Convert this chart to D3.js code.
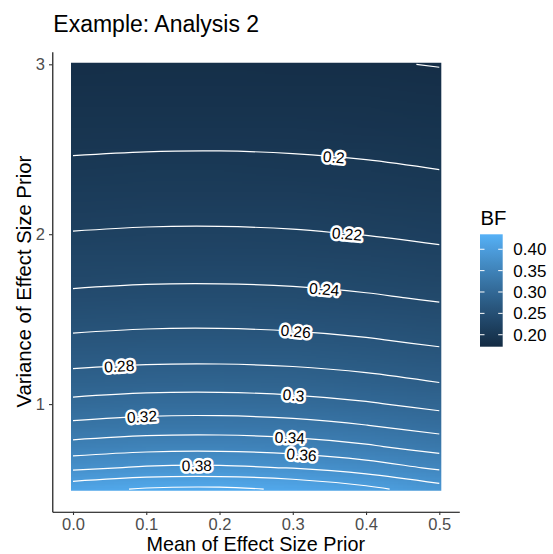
<!DOCTYPE html>
<html>
<head>
<meta charset="utf-8">
<script src="https://cdn.jsdelivr.net/npm/d3@7"></script>
<style>
  body { margin: 0; background: #fff; }
  svg { display: block; font-family: "Liberation Sans", Arial, sans-serif; }
</style>
</head>
<body>
<div id="chart"></div>
<script>
const width = 553;
const height = 554;

// grid the BF surface was read on
const means = [0, 0.1, 0.2, 0.3, 0.4, 0.5];
const variances = [0.5, 0.625, 0.75, 0.875, 1, 1.125, 1.25, 1.375, 1.5, 1.625, 1.75,
                   1.875, 2, 2.125, 2.25, 2.375, 2.5, 2.625, 2.75, 2.875, 3];

// one row per variance (low to high), one column per mean
const bf = [
  [0.4135, 0.4220, 0.4235, 0.4177, 0.4055, 0.3884],
  [0.3761, 0.3825, 0.3836, 0.3793, 0.3700, 0.3569],
  [0.3473, 0.3523, 0.3532, 0.3498, 0.3425, 0.3320],
  [0.3243, 0.3283, 0.3290, 0.3263, 0.3203, 0.3117],
  [0.3053, 0.3087, 0.3092, 0.3069, 0.3020, 0.2947],
  [0.2893, 0.2921, 0.2926, 0.2907, 0.2865, 0.2802],
  [0.2755, 0.2780, 0.2784, 0.2768, 0.2731, 0.2677],
  [0.2636, 0.2658, 0.2661, 0.2647, 0.2615, 0.2567],
  [0.2531, 0.2550, 0.2553, 0.2540, 0.2512, 0.2470],
  [0.2437, 0.2454, 0.2457, 0.2446, 0.2420, 0.2383],
  [0.2353, 0.2369, 0.2371, 0.2361, 0.2338, 0.2304],
  [0.2278, 0.2292, 0.2294, 0.2285, 0.2264, 0.2233],
  [0.2209, 0.2222, 0.2224, 0.2215, 0.2196, 0.2168],
  [0.2146, 0.2157, 0.2159, 0.2152, 0.2134, 0.2108],
  [0.2088, 0.2099, 0.2100, 0.2093, 0.2077, 0.2053],
  [0.2035, 0.2044, 0.2046, 0.2039, 0.2025, 0.2002],
  [0.1985, 0.1994, 0.1996, 0.1990, 0.1976, 0.1955],
  [0.1939, 0.1947, 0.1949, 0.1943, 0.1930, 0.1911],
  [0.1896, 0.1904, 0.1905, 0.1900, 0.1888, 0.1870],
  [0.1856, 0.1863, 0.1864, 0.1859, 0.1848, 0.1831],
  [0.1818, 0.1825, 0.1826, 0.1821, 0.1811, 0.1795]
];

const contourLevels = [0.18, 0.2, 0.22, 0.24, 0.26, 0.28, 0.3, 0.32, 0.34, 0.36, 0.38, 0.4, 0.42];

// where the labels sit on their contour lines
const labelLevels = [0.2, 0.22, 0.24, 0.26, 0.28, 0.3, 0.32, 0.34, 0.36, 0.38];
const labelMeans = [0.356, 0.374, 0.343, 0.304, 0.063, 0.301, 0.094, 0.296, 0.312, 0.169];
const labelVariances = [2.44, 1.99, 1.67, 1.42, 1.22, 1.05, 0.92, 0.80, 0.70, 0.64];

const xTicks = [0, 0.1, 0.2, 0.3, 0.4, 0.5];
const yTicks = [1, 2, 3];
const legendTicks = [0.2, 0.25, 0.3, 0.35, 0.4];
const fillLimits = [0.172, 0.435];

const svg = d3.select("#chart")
    .append("svg")
    .attr("width", width)
    .attr("height", height);

const xScale = d3.scaleLinear()
    .domain([-0.02826, 0.5273])
    .range([52.3, 459.3]);

const yScale = d3.scaleLinear()
    .domain([0.3667, 3.0742])
    .range([511.7, 51.7]);

const fill = d3.scaleLinear()
    .domain(fillLimits)
    .range(["#132B43", "#56B1F7"])
    .interpolate(d3.interpolateLab);

const nx = means.length, ny = variances.length;

//raster: paint the grid into a tiny canvas and let the browser smooth it up
const small = document.createElement("canvas");
small.width = nx;
small.height = ny;
const sctx = small.getContext("2d");
const img = sctx.createImageData(nx, ny);
bf.forEach((row, j) => row.forEach((val, i) => {
    const c = d3.rgb(fill(val));
    const k = ((ny - 1 - j) * nx + i) * 4;
    img.data[k] = c.r;
    img.data[k + 1] = c.g;
    img.data[k + 2] = c.b;
    img.data[k + 3] = 255;
}));
sctx.putImageData(img, 0, 0);

const rx0 = xScale(means[0]) - 2, rx1 = xScale(means[nx - 1]) + 2;
const ry0 = yScale(variances[ny - 1]) - 1.6, ry1 = yScale(variances[0]) + 1.6;
const cw = xScale(means[1]) - xScale(means[0]);
const ch = yScale(variances[0]) - yScale(variances[1]);

const big = document.createElement("canvas");
big.width = width;
big.height = height;
const bctx = big.getContext("2d");
bctx.imageSmoothingEnabled = true;
bctx.beginPath();
bctx.rect(rx0, ry0, rx1 - rx0, ry1 - ry0);
bctx.clip();
bctx.drawImage(small, xScale(means[0]) - cw / 2, yScale(variances[ny - 1]) - ch / 2, cw * nx, ch * ny);

svg.append("image")
    .attr("x", 0)
    .attr("y", 0)
    .attr("width", width)
    .attr("height", height)
    .attr("href", big.toDataURL());

//contour lines, grid index space -> data -> pixels
const gx = d3.scaleLinear().domain([0.5, nx - 0.5]).range([means[0], means[nx - 1]]);
const gy = d3.scaleLinear().domain([0.5, ny - 0.5]).range([variances[0], variances[ny - 1]]);
const project = p => [xScale(gx(p[0])), yScale(gy(p[1]))];
const inside = p => p[0] >= 0.5 - 1e-9 && p[0] <= nx - 0.5 + 1e-9 && p[1] >= 0.5 - 1e-9 && p[1] <= ny - 0.5 + 1e-9;

const contours = d3.contours()
    .size([nx, ny])
    .thresholds(contourLevels)(bf.flat());

// cut each ring into the open isolines that lie inside the data area
function isolines(c) {
    const lines = [];
    c.coordinates.forEach(poly => poly.forEach(ring => {
        const pts = ring.slice(0, -1);
        const start = pts.findIndex(p => !inside(p));
        if (start < 0) { lines.push(ring.map(project)); return; }
        let run = [];
        for (let k = 1; k <= pts.length; k++) {
            const p = pts[(start + k) % pts.length];
            if (inside(p)) run.push(project(p));
            else { if (run.length > 1) lines.push(run); run = []; }
        }
        if (run.length > 1) lines.push(run);
    }));
    return lines;
}

const lineGen = d3.line().curve(d3.curveCatmullRom.alpha(0.5));

svg.append("g")
    .selectAll("path")
    .data(contours.flatMap(isolines))
    .enter()
    .append("path")
    .attr("d", lineGen)
    .attr("fill", "none")
    .attr("stroke", "white")
    .attr("stroke-width", 1.2);

//labels snapped onto their line
const labels = labelLevels.map((lev, i) => {
    const c = contours.find(d => Math.abs(d.value - lev) < 1e-9);
    const tx = xScale(labelMeans[i]), ty = yScale(labelVariances[i]);
    let best = null;
    isolines(c).forEach(r => {
        for (let k = 0; k < r.length - 1; k++) {
            const p = r[k], q = r[k + 1];
            if ((p[0] - tx) * (q[0] - tx) > 0 || p[0] === q[0]) continue;
            const t = (tx - p[0]) / (q[0] - p[0]);
            const y = p[1] + t * (q[1] - p[1]);
            let ang = Math.atan2(q[1] - p[1], q[0] - p[0]) * 180 / Math.PI;
            if (ang > 90) ang -= 180;
            if (ang < -90) ang += 180;
            if (!best || Math.abs(y - ty) < Math.abs(best.y - ty)) best = { x: tx, y: y, a: ang };
        }
    });
    return Object.assign(best || { x: tx, y: ty, a: 0 }, { text: String(+lev.toFixed(2)) });
});

svg.append("g")
    .selectAll("text")
    .data(labels)
    .enter()
    .append("text")
    .attr("transform", d => `translate(${d.x},${d.y}) rotate(${d.a})`)
    .attr("text-anchor", "middle")
    .attr("dy", "0.36em")
    .attr("font-size", 15.5)
    .attr("fill", "black")
    .attr("stroke", "white")
    .attr("stroke-width", 5)
    .attr("stroke-linejoin", "round")
    .attr("paint-order", "stroke")
    .text(d => d.text);

//axes
const xAxis = svg.append("g")
    .attr("transform", `translate(0,${yScale.range()[0]})`)
    .call(d3.axisBottom(xScale).tickValues(xTicks).tickFormat(d3.format(".1f"))
        .tickSize(3.3).tickSizeOuter(0).tickPadding(2.8));

const yAxis = svg.append("g")
    .attr("transform", `translate(${xScale.range()[0]},0)`)
    .call(d3.axisLeft(yScale).tickValues(yTicks).tickFormat(d3.format("d"))
        .tickSize(3.3).tickSizeOuter(0).tickPadding(4));

[xAxis, yAxis].forEach(ax => {
    ax.select(".domain").attr("stroke", "black").attr("stroke-width", 1.1);
    ax.selectAll(".tick line").attr("stroke", "#333333").attr("stroke-width", 1.1);
    ax.selectAll(".tick text")
        .attr("fill", "#4D4D4D")
        .attr("font-size", 16.5)
        .attr("font-family", "Liberation Sans, Arial, sans-serif");
});

svg.append("text")
    .attr("x", (xScale.range()[0] + xScale.range()[1]) / 2)
    .attr("y", 551)
    .attr("text-anchor", "middle")
    .attr("font-size", 19.8)
    .text("Mean of Effect Size Prior");

svg.append("text")
    .attr("transform", `translate(31,${(yScale.range()[0] + yScale.range()[1]) / 2}) rotate(-90)`)
    .attr("text-anchor", "middle")
    .attr("font-size", 20.3)
    .text("Variance of Effect Size Prior");

svg.append("text")
    .attr("x", 53.3)
    .attr("y", 31.7)
    .attr("font-size", 23)
    .text("Example: Analysis 2");

//legend
const legendScale = d3.scaleLinear().domain(fillLimits).range([346.7, 234.3]);
const barX = 480, barW = 22.7;

const grad = svg.append("defs").append("linearGradient")
    .attr("id", "bfGrad")
    .attr("x1", 0).attr("y1", 1).attr("x2", 0).attr("y2", 0);
d3.range(0, 1.0001, 0.05).forEach(t => {
    grad.append("stop")
        .attr("offset", t)
        .attr("stop-color", fill(fillLimits[0] + t * (fillLimits[1] - fillLimits[0])));
});

svg.append("rect")
    .attr("x", barX)
    .attr("y", legendScale.range()[1])
    .attr("width", barW)
    .attr("height", legendScale.range()[0] - legendScale.range()[1])
    .attr("fill", "url(#bfGrad)");

const legendTick = svg.append("g").selectAll("g")
    .data(legendTicks)
    .enter()
    .append("g");

legendTick.append("line")
    .attr("x1", barX).attr("x2", barX + 4.5)
    .attr("y1", d => legendScale(d)).attr("y2", d => legendScale(d))
    .attr("stroke", "white").attr("stroke-width", 1);

legendTick.append("line")
    .attr("x1", barX + barW - 4.5).attr("x2", barX + barW)
    .attr("y1", d => legendScale(d)).attr("y2", d => legendScale(d))
    .attr("stroke", "white").attr("stroke-width", 1);

legendTick.append("text")
    .attr("x", 513.3)
    .attr("y", d => legendScale(d))
    .attr("dy", "0.36em")
    .attr("font-size", 17)
    .attr("fill", "black")
    .text(d => d3.format(".2f")(d));

svg.append("text")
    .attr("x", 480.5)
    .attr("y", 225)
    .attr("font-size", 20.3)
    .text("BF");
</script>
</body>
</html>
